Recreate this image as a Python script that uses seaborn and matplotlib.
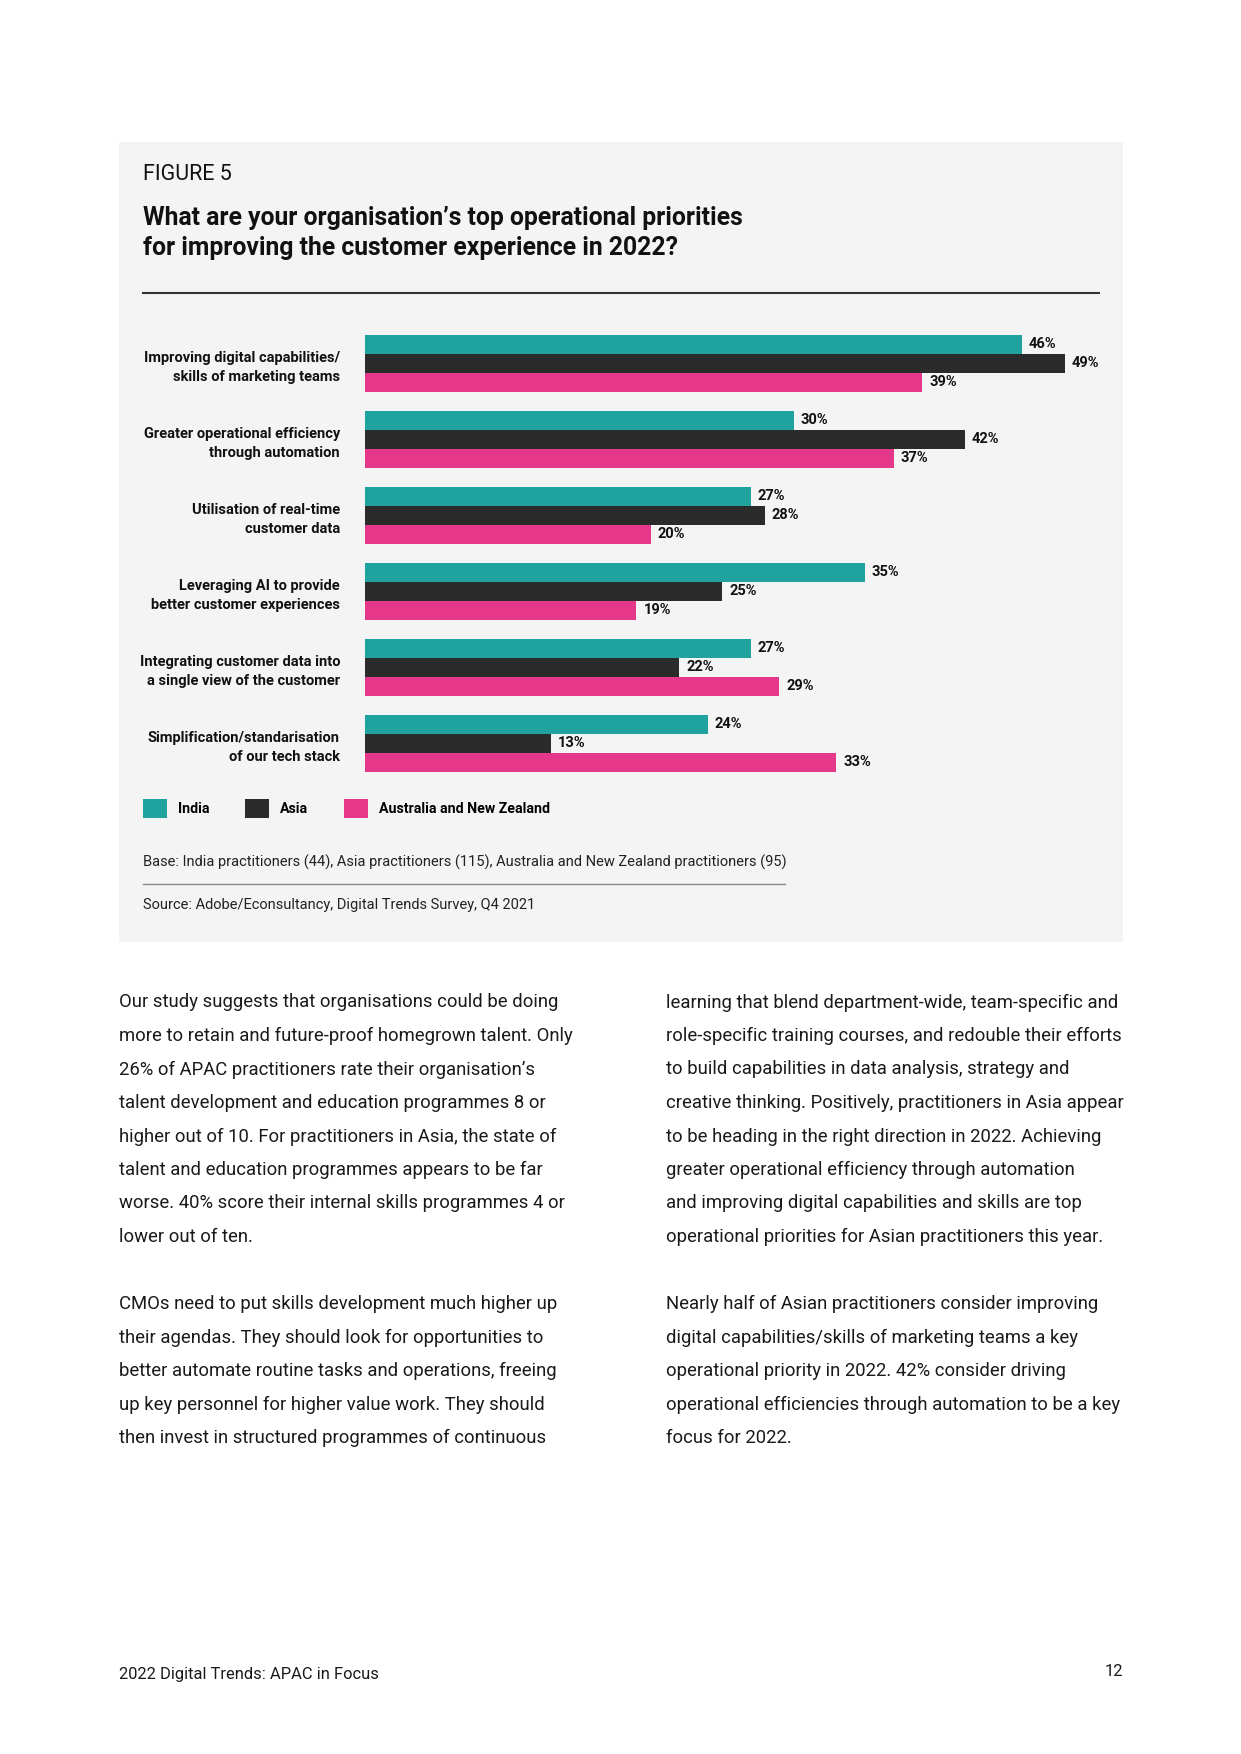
import matplotlib as mpl
mpl.use('Agg')  # no UI backend

import numpy as np
import pandas as pd
import matplotlib.pyplot as plt
from matplotlib.patches import Rectangle
from matplotlib.lines import Line2D
import seaborn as sns

# ---- data ----
priorities = ['Improving digital capabilities/\nskills of marketing teams',
              'Greater operational efficiency\nthrough automation',
              'Utilisation of real-time\ncustomer data',
              'Leveraging AI to provide\nbetter customer experiences',
              'Integrating customer data into\na single view of the customer',
              'Simplification/standarisation\nof our tech stack']
regions = ['India', 'Asia', 'Australia and New Zealand']
india = [46, 30, 27, 35, 27, 24]
asia = [49, 42, 28, 25, 22, 13]
anz = [39, 37, 20, 19, 29, 33]
palette = ['#20a39e', '#2b2b2b', '#e6388a']

left_col = [
    ['Our study suggests that organisations could be doing',
     'more to retain and future-proof homegrown talent. Only',
     '26% of APAC practitioners rate their organisation\u2019s',
     'talent development and education programmes 8 or',
     'higher out of 10. For practitioners in Asia, the state of',
     'talent and education programmes appears to be far',
     'worse. 40% score their internal skills programmes 4 or',
     'lower out of ten.'],
    ['CMOs need to put skills development much higher up',
     'their agendas. They should look for opportunities to',
     'better automate routine tasks and operations, freeing',
     'up key personnel for higher value work. They should',
     'then invest in structured programmes of continuous'],
]
right_col = [
    ['learning that blend department-wide, team-specific and',
     'role-specific training courses, and redouble their efforts',
     'to build capabilities in data analysis, strategy and',
     'creative thinking. Positively, practitioners in Asia appear',
     'to be heading in the right direction in 2022. Achieving',
     'greater operational efficiency through automation',
     'and improving digital capabilities and skills are top',
     'operational priorities for Asian practitioners this year.'],
    ['Nearly half of Asian practitioners consider improving',
     'digital capabilities/skills of marketing teams a key',
     'operational priority in 2022. 42% consider driving',
     'operational efficiencies through automation to be a key',
     'focus for 2022.'],
]

df = pd.DataFrame({
    'priority': priorities * 3,
    'region': np.repeat(regions, len(priorities)),
    'value': india + asia + anz,
})

plt.rcParams['font.family'] = ['Roboto', 'DejaVu Sans']

W, H = 1241, 1754


def fx(x):
    return x / W


def fy(y):
    return 1 - y / H


fig = plt.figure(figsize=(W / 100, H / 100), dpi=100)
fig.patch.set_facecolor('white')

# grey panel behind the figure block
fig.add_artist(Rectangle((fx(119), fy(942)), (1123 - 119) / W, (942 - 142) / H,
                         transform=fig.transFigure, facecolor='#f4f4f4',
                         edgecolor='none', zorder=0))

fig.text(fx(143), fy(175), 'FIGURE 5', fontsize=15.5, color='#111111', va='center')
fig.text(fx(143), fy(218), 'What are your organisation\u2019s top operational priorities',
         fontsize=17.8, fontweight='bold', color='#111111', va='center')
fig.text(fx(143), fy(248), 'for improving the customer experience in 2022?',
         fontsize=17.8, fontweight='bold', color='#111111', va='center')
fig.add_artist(Line2D([fx(143), fx(1099)], [fy(293), fy(293)],
                      transform=fig.transFigure, color='#333333', lw=1.5))

# ---- bar chart ----
px_per_pct = (1066 - 366) / 49.0
ax = fig.add_axes([fx(365), fy(781), 50 * px_per_pct / W, (781 - 325.5) / H])
sns.barplot(data=df, y='priority', x='value', hue='region', orient='h',
            palette=palette, saturation=1, width=0.75, ax=ax, linewidth=0)
ax.set_xlim(0, 50)
ax.set_ylim(5.5, -0.5)
ax.set_facecolor('none')
for s in ax.spines.values():
    s.set_visible(False)
ax.set_xticks([])
ax.set_xlabel('')
ax.set_ylabel('')
ax.tick_params(axis='y', length=0, pad=18)
for lab in ax.get_yticklabels():
    lab.set_fontsize(10.5)
    lab.set_fontweight('bold')
    lab.set_color('#111111')
    lab.set_linespacing(1.5)
    lab.set_verticalalignment('center_baseline')

for cont in ax.containers:
    ax.bar_label(cont, fmt='%d%%', padding=5, fontsize=10.5, fontweight='bold',
                 color='#111111')

handles, labels = ax.get_legend_handles_labels()
ax.legend(handles, labels, loc='upper left', ncol=3,
          bbox_to_anchor=(fx(143), fy(799)), bbox_transform=fig.transFigure,
          frameon=False, handlelength=1.7, handleheight=1.7, handletextpad=0.75,
          columnspacing=2.55, borderpad=0, borderaxespad=0,
          prop={'size': 10.2, 'weight': 'bold'})

fig.text(fx(143), fy(862),
         'Base: India practitioners (44), Asia practitioners (115), '
         'Australia and New Zealand practitioners (95)',
         fontsize=10.5, color='#222222', va='center')
fig.add_artist(Line2D([fx(143), fx(785)], [fy(884), fy(884)],
                      transform=fig.transFigure, color='#8a8a8a', lw=1))
fig.text(fx(143), fy(905), 'Source: Adobe/Econsultancy, Digital Trends Survey, Q4 2021',
         fontsize=10.5, color='#222222', va='center')

# ---- body copy ----
line_h = 33.5
for x0, col in [(119, left_col), (666, right_col)]:
    y = 1002.5
    for para in col:
        for line in para:
            fig.text(fx(x0), fy(y), line, fontsize=13.35, color='#1a1a1a', va='center')
            y += line_h
        y += line_h

fig.text(fx(119), fy(1674.5), '2022 Digital Trends: APAC in Focus', fontsize=11.9,
         color='#1a1a1a', va='center')
fig.text(fx(1123), fy(1671), '12', fontsize=11.9, color='#1a1a1a', va='center', ha='right')

fig.savefig('out.png', dpi=100)
